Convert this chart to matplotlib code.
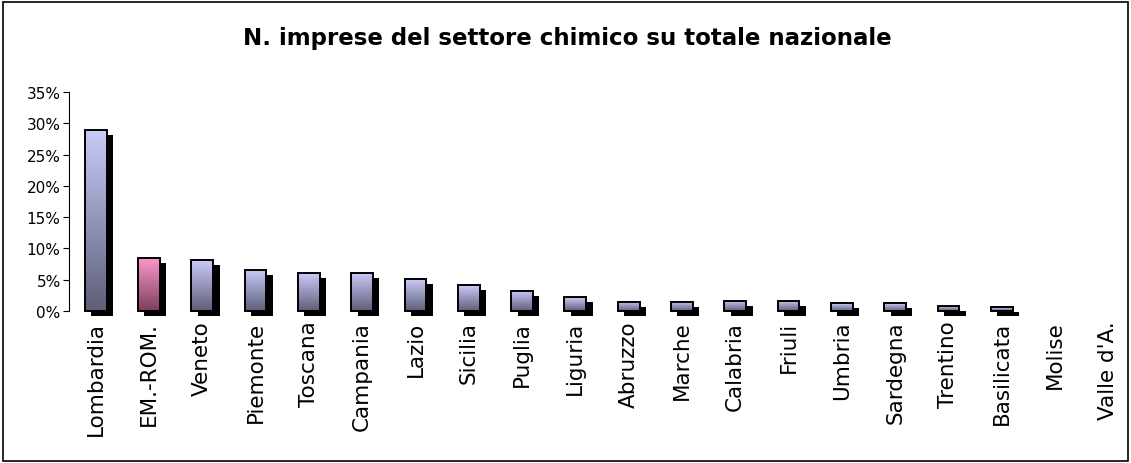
import numpy as np
import matplotlib.pyplot as plt
from matplotlib.patches import Rectangle
from matplotlib.colors import LinearSegmentedColormap

regioni = ['Lombardia', 'EM.-ROM.', 'Veneto', 'Piemonte', 'Toscana', 'Campania',
           'Lazio', 'Sicilia', 'Puglia', 'Liguria', 'Abruzzo', 'Marche',
           'Calabria', 'Friuli', 'Umbria', 'Sardegna', 'Trentino', 'Basilicata',
           'Molise', "Valle d'A."]
quota_imprese = [29.0, 8.5, 8.1, 6.6, 6.0, 6.1, 5.1, 4.1, 3.2, 2.2,
                 1.5, 1.5, 1.6, 1.6, 1.2, 1.2, 0.85, 0.6, 0.0, 0.0]
evidenziata = 'EM.-ROM.'

title_text = 'N. imprese del settore chimico su totale nazionale'

cmap_blu = LinearSegmentedColormap.from_list('blu', ['#5e5e78', '#cbcbfb'])
cmap_rosa = LinearSegmentedColormap.from_list('rosa', ['#7c3f5c', '#ff99cc'])

fig = plt.figure(figsize=(11.31, 4.64), dpi=100)
ax = fig.add_axes([69 / 1131, 1 - 312 / 464, 1066 / 1131, 219 / 464])

bar_width = 0.41
shadow_dx = 0.12   # category units
shadow_dy = 0.8    # percent units
x_pos = np.arange(len(regioni))
gradient = np.linspace(0, 1, 256).reshape(-1, 1)

for x, val, nome in zip(x_pos, quota_imprese, regioni):
    if val <= 0:
        continue
    # shadow
    ax.add_patch(Rectangle((x - bar_width / 2 + shadow_dx, -shadow_dy), bar_width, val,
                           facecolor='black', edgecolor='none', clip_on=False, zorder=1))
    cmap = cmap_rosa if nome == evidenziata else cmap_blu
    rect = Rectangle((x - bar_width / 2, 0), bar_width, val, facecolor='none',
                     edgecolor='black', linewidth=1.4, clip_on=False, zorder=3)
    img = ax.imshow(gradient, cmap=cmap, aspect='auto', origin='lower',
                    extent=(x - bar_width / 2, x + bar_width / 2, 0, val), zorder=2)
    ax.add_patch(rect)
    img.set_clip_path(rect)

ax.set_xlim(-0.5, len(regioni) - 0.5)
ax.set_ylim(0, 35)
ax.set_yticks(np.arange(0, 36, 5))
ax.set_yticklabels([f'{v}%' for v in range(0, 36, 5)], fontsize=11)
ax.set_xticks(x_pos)
ax.set_xticklabels(regioni, rotation=90, fontsize=15.5)
ax.tick_params(axis='x', length=0, pad=7)
ax.tick_params(axis='y', length=4, width=0.8, pad=2)
for side in ['top', 'right', 'bottom']:
    ax.spines[side].set_visible(False)
ax.spines['left'].set_linewidth(0.8)

fig.text(0.502, 1 - 38 / 464, title_text, ha='center', va='center',
         fontsize=16.5, fontweight='bold')
fig.patches.append(Rectangle((3 / 1131, 2 / 464), 1125 / 1131, 459 / 464,
                             transform=fig.transFigure, fill=False,
                             edgecolor='black', linewidth=1.2))

plt.savefig('out.png', dpi=100)
